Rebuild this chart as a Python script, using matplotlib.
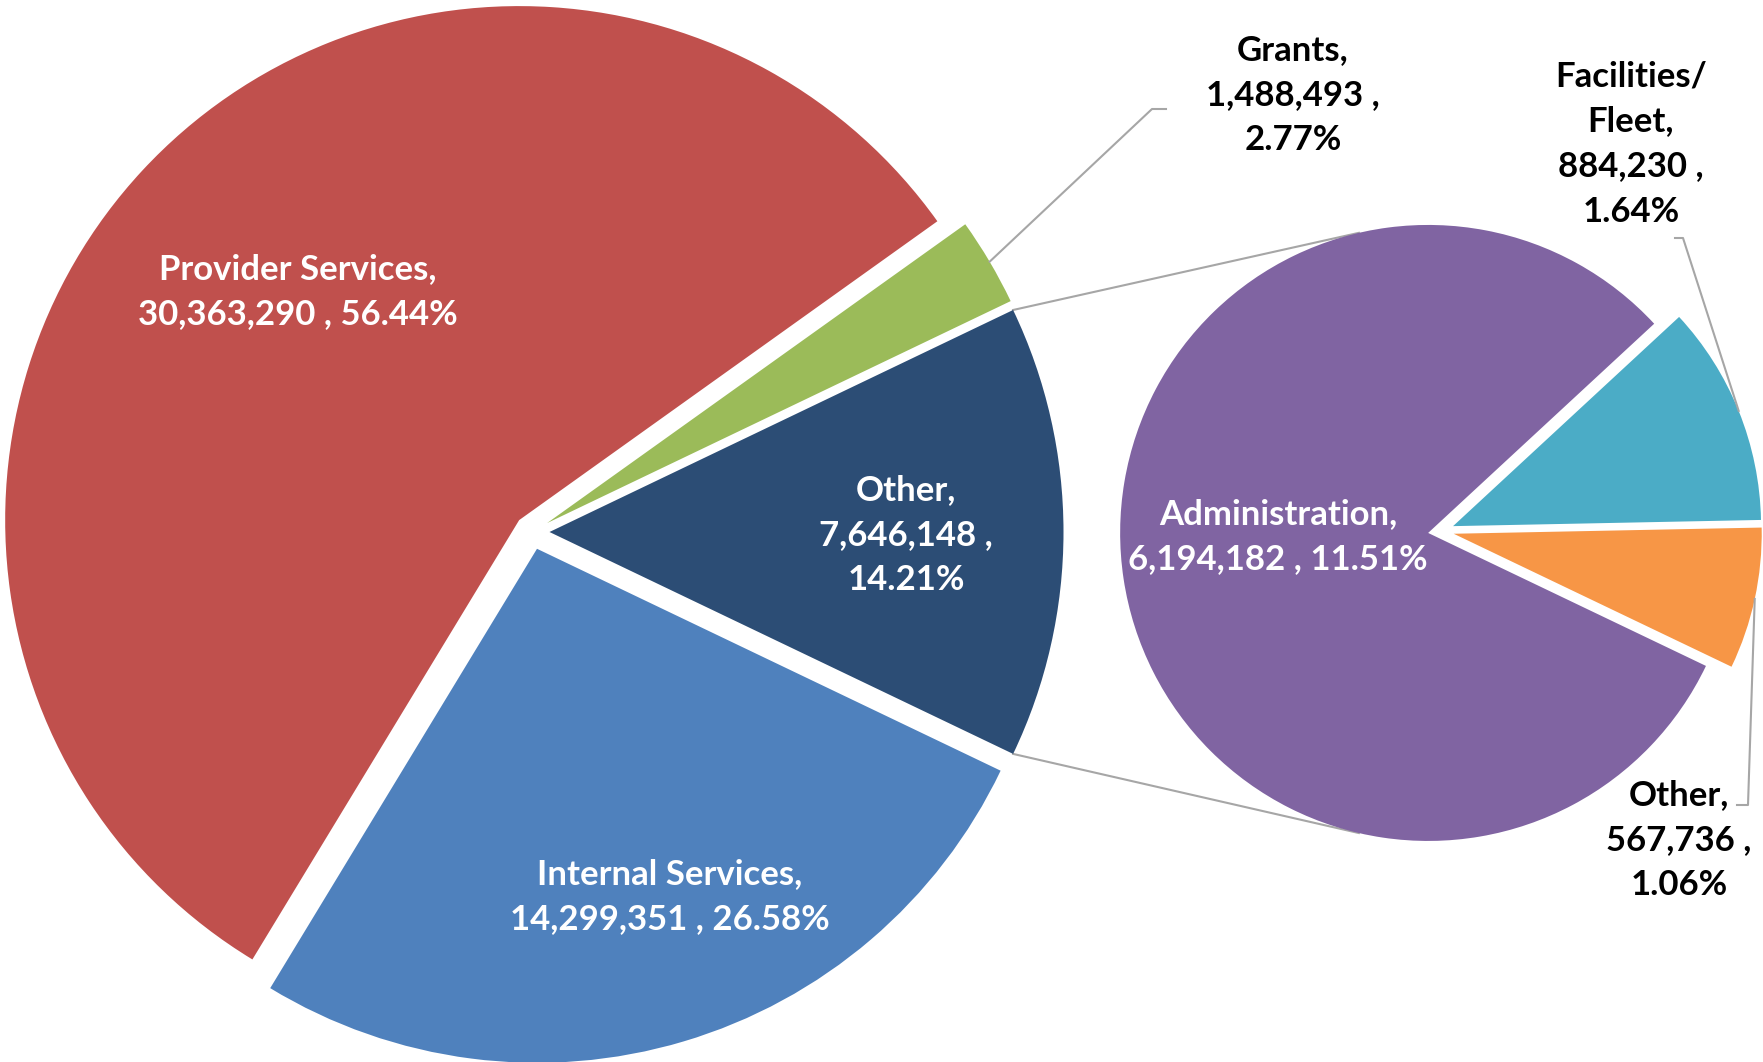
import numpy as np
import matplotlib.pyplot as plt

plt.rcParams['font.family'] = ['Lato', 'DejaVu Sans']

# main pie, listed counterclockwise starting from the split-off slice
main_names = ['Other', 'Grants', 'Provider Services', 'Internal Services']
main_values = [7646148, 1488493, 30363290, 14299351]
main_pcts = [14.21, 2.77, 56.44, 26.58]
main_colors = ['#2C4D75', '#9BBB59', '#C0504D', '#4F81BD']

# secondary pie: breakdown of "Other"
sub_names = ['Other', 'Facilities/\nFleet', 'Administration']
sub_values = [567736, 884230, 6194182]
sub_pcts = [1.06, 1.64, 11.51]
sub_colors = ['#F79646', '#4BACC6', '#8064A2']

W, H = 1763, 1062


def Y(y):
    # image rows -> axis coords (y up)
    return H - y


def label(name, value, pct, stacked):
    sep = '\n' if stacked else ' '
    return f'{name},\n{value:,} ,{sep}{pct:.2f}%'


fig = plt.figure(figsize=(W / 100, H / 100), dpi=100)
ax = fig.add_axes([0, 0, 1, 1])

start = -main_pcts[0] / 100 * 360 / 2

R1, c1 = 514, (532, Y(532))
R2, c2 = 308, (1441, Y(531))

# explode is in data units here (pixels)
w1, _ = ax.pie(main_values, colors=main_colors, radius=R1, center=c1,
               startangle=start, counterclock=True,
               explode=[17.5] * 4, wedgeprops=dict(linewidth=0))
w2, _ = ax.pie(sub_values, colors=sub_colors, radius=R2, center=c2,
               startangle=start, counterclock=True,
               explode=[13] * 3, wedgeprops=dict(linewidth=0))

ax.set_xlim(0, W)
ax.set_ylim(0, H)
ax.set_aspect('equal')
ax.axis('off')

line_col = '#A6A6A6'


def arc_pt(w, ang):
    a = np.deg2rad(ang)
    return w.center[0] + w.r * np.cos(a), w.center[1] + w.r * np.sin(a)


# connector lines from the split slice to the secondary pie
oth = w1[0]
adm = w2[2]
for a_main, a_sub in [(oth.theta2, 103), (oth.theta1, -103)]:
    p = arc_pt(oth, a_main)
    q = arc_pt(adm, a_sub)
    ax.plot([p[0], q[0]], [p[1], q[1]], color=line_col, lw=1.5, zorder=0.5)

# labels inside slices
fs = 25
ls = 1.5
inside = [
    (w1[2], label(main_names[2], main_values[2], main_pcts[2], False), (298, 292)),
    (w1[3], label(main_names[3], main_values[3], main_pcts[3], False), (670, 897)),
    (w1[0], label(main_names[0], main_values[0], main_pcts[0], True), (906, 535)),
    (w2[2], label(sub_names[2], sub_values[2], sub_pcts[2], False), (1278, 537)),
]
for w, txt, (x, y) in inside:
    ax.text(x, Y(y), txt, color='white', fontsize=fs, fontweight='bold',
            ha='center', va='center', linespacing=ls)

# labels outside with leader lines
outside = [
    (w1[1], label(main_names[1], main_values[1], main_pcts[1], True),
     (1293, 95), [(1152, 109), (1166, 109)]),
    (w2[1], label(sub_names[1], sub_values[1], sub_pcts[1], True),
     (1631, 144), [(1683, 238), (1675, 238)]),
    (w2[0], label(sub_names[0], sub_values[0], sub_pcts[0], True),
     (1679, 840), [(1748, 805), (1737, 805)]),
]
for w, txt, (x, y), elbow in outside:
    ax.text(x, Y(y), txt, color='black', fontsize=fs, fontweight='bold',
            ha='center', va='center', linespacing=ls)
    p = arc_pt(w, (w.theta1 + w.theta2) / 2)
    xs = [p[0]] + [e[0] for e in elbow]
    ys = [p[1]] + [Y(e[1]) for e in elbow]
    ax.plot(xs, ys, color=line_col, lw=1.5)

fig.savefig('out.png', dpi=100)
